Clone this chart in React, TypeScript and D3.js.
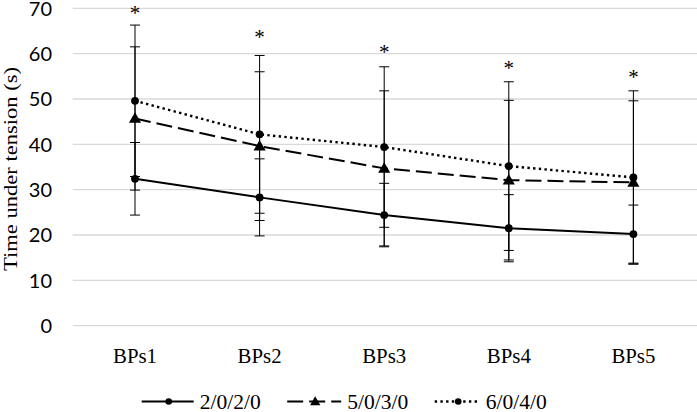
import React from "react";
import * as d3 from "d3";

const categories = ["BPs1", "BPs2", "BPs3", "BPs4", "BPs5"];
const seriesNames = ["2/0/2/0", "5/0/3/0", "6/0/4/0"];
const mean2020 = [32.4, 28.3, 24.4, 21.5, 20.2];
const sd2020 = [8.0, 8.5, 7.0, 7.4, 6.4];
const mean5030 = [45.7, 39.6, 34.7, 32.1, 31.6];
const sd5030 = [15.8, 16.4, 17.1, 17.6, 18.0];
const mean6040 = [49.6, 42.2, 39.4, 35.2, 32.7];
const sd6040 = [16.7, 17.4, 17.7, 18.6, 19.1];
const starValues = [69.8, 64.5, 61.3, 57.7, 55.8];
const yTicks = [0, 10, 20, 30, 40, 50, 60, 70];

const W = 697;
const H = 412;
const serif = "'Liberation Serif', 'DejaVu Serif', serif";
const sans = "Lato, 'Open Sans', sans-serif";

type Series = { name: string; mean: number[]; sd: number[]; dash: string; width: number; marker: "circle" | "triangle"; legendLen: number };

const series: Series[] = [
  { name: seriesNames[0], mean: mean2020, sd: sd2020, dash: "none", width: 2, marker: "circle", legendLen: 52 },
  { name: seriesNames[1], mean: mean5030, sd: sd5030, dash: "16 6", width: 2, marker: "triangle", legendLen: 54 },
  { name: seriesNames[2], mean: mean6040, sd: sd6040, dash: "2.4 3.3", width: 2.4, marker: "circle", legendLen: 45 },
];

function Marker({ kind, x, y, r }: { kind: string; x: number; y: number; r: number }) {
  if (kind === "triangle") {
    const s = d3.symbol(d3.symbolTriangle, r * r * 4.2)();
    return <path d={s || ""} transform={`translate(${x},${y + 0.8})`} fill="#000" />;
  }
  return <circle cx={x} cy={y} r={r} fill="#000" />;
}

export default function App() {
  const x = d3.scaleBand<string>().domain(categories).range([72.7, 695.7]);
  const y = d3.scaleLinear().domain([0, 70]).range([325.7, 8.3]);
  const cx = (c: string) => (x(c) as number) + x.bandwidth() / 2;
  const line = d3
    .line<number>()
    .x((_, i) => cx(categories[i]))
    .y((v) => y(v));

  const legendStart = 141.7;
  const legendGap = 26.5;
  const legendTextW = 61;
  const legendY = 401.5;
  let lx = legendStart;
  const legendItems = series.map((s) => {
    const x0 = lx;
    lx = x0 + s.legendLen + 6 + legendTextW + legendGap;
    return { s, x0 };
  });

  return (
    <svg width={W} height={H} style={{ position: "absolute", left: 0, top: 0, background: "#fff" }}>
      {yTicks.map((t) => (
        <g key={t}>
          <line x1={72.7} x2={697} y1={y(t)} y2={y(t)} stroke="#d9d9d9" strokeWidth={1.3} />
          <text x={52} y={y(t)} dy="0.36em" textAnchor="end" fontFamily={sans} fontSize={20} fill="#000">
            {t}
          </text>
        </g>
      ))}
      <text
        transform={`translate(17,${y(35) + 2}) rotate(-90)`}
        textAnchor="middle"
        fontFamily={serif}
        fontSize={19.5}
        textLength={204}
        lengthAdjust="spacingAndGlyphs"
        fill="#000"
      >
        Time under tension (s)
      </text>
      {categories.map((c) => (
        <text
          key={c}
          x={cx(c)}
          y={363}
          textAnchor="middle"
          fontFamily={serif}
          fontSize={21.5}
          textLength={44}
          lengthAdjust="spacingAndGlyphs"
          fill="#000"
        >
          {c}
        </text>
      ))}
      {series.map((s) =>
        categories.map((c, i) => {
          const xx = cx(c);
          const top = y(s.mean[i] + s.sd[i]);
          const bot = y(s.mean[i] - s.sd[i]);
          return (
            <g key={s.name + c} stroke="#000" strokeWidth={1}>
              <line x1={xx} x2={xx} y1={top} y2={bot} />
              <line x1={xx - 5} x2={xx + 5} y1={top} y2={top} />
              <line x1={xx - 5} x2={xx + 5} y1={bot} y2={bot} />
            </g>
          );
        })
      )}
      {series.map((s) => (
        <path key={s.name} d={line(s.mean) || ""} fill="none" stroke="#000" strokeWidth={s.width} strokeDasharray={s.dash} />
      ))}
      {series.map((s) =>
        categories.map((c, i) => <Marker key={s.name + c} kind={s.marker} x={cx(c)} y={y(s.mean[i])} r={3.9} />)
      )}
      {categories.map((c, i) => (
        <text key={"star" + c} x={cx(c)} y={y(starValues[i]) + 11} textAnchor="middle" fontFamily={serif} fontSize={21} fill="#000">
          *
        </text>
      ))}
      {legendItems.map(({ s, x0 }) => (
        <g key={"lg" + s.name}>
          <line x1={x0} x2={x0 + s.legendLen} y1={legendY} y2={legendY} stroke="#000" strokeWidth={s.width} strokeDasharray={s.dash} />
          <Marker kind={s.marker} x={x0 + s.legendLen / 2 + 1} y={legendY} r={3.3} />
          <text
            x={x0 + s.legendLen + 6}
            y={legendY + 7}
            fontFamily={serif}
            fontSize={21}
            textLength={legendTextW}
            lengthAdjust="spacingAndGlyphs"
            fill="#000"
          >
            {s.name}
          </text>
        </g>
      ))}
    </svg>
  );
}
